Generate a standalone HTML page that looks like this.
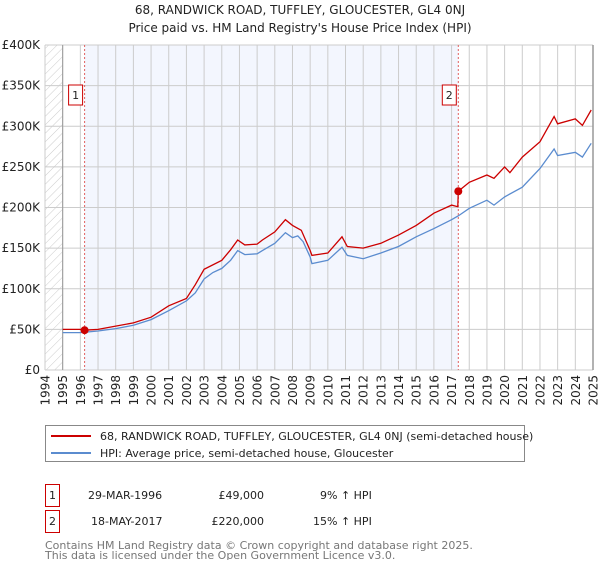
<!DOCTYPE html>
<html><head><meta charset="utf-8"><style>
body{margin:0;background:#fff;font-family:"Liberation Sans","DejaVu Sans",sans-serif;}
svg text{font-family:"DejaVu Sans","Liberation Sans",sans-serif;}
</style></head><body>
<svg width="600" height="560" xmlns="http://www.w3.org/2000/svg">
<defs><pattern id="hatch" width="6" height="6" patternUnits="userSpaceOnUse" patternTransform="rotate(45)"><line x1="0" y1="0" x2="0" y2="6" stroke="#ccc" stroke-width="1"/></pattern></defs>
<text x="300" y="14" text-anchor="middle" font-size="12" fill="#222">68, RANDWICK ROAD, TUFFLEY, GLOUCESTER, GL4 0NJ</text>
<text x="300" y="32" text-anchor="middle" font-size="12" fill="#222">Price paid vs. HM Land Registry's House Price Index (HPI)</text>
<g id="plot"></g>
<g>
<rect x="45.5" y="425.5" width="479" height="36" fill="#fff" stroke="#888"/>
<line x1="51" y1="436" x2="91" y2="436" stroke="#cc0000" stroke-width="2"/>
<text x="100" y="440" font-size="11" fill="#222">68, RANDWICK ROAD, TUFFLEY, GLOUCESTER, GL4 0NJ (semi-detached house)</text>
<line x1="51" y1="453" x2="91" y2="453" stroke="#5b8ccf" stroke-width="2"/>
<text x="100" y="457" font-size="11" fill="#222">HPI: Average price, semi-detached house, Gloucester</text>
</g>
<g font-size="11" fill="#222">
<rect x="45.5" y="484.5" width="14" height="22" fill="#fff" stroke="#cc0000"/>
<text x="52.5" y="499" text-anchor="middle">1</text>
<text x="88" y="499">29-MAR-1996</text>
<text x="264" y="499" text-anchor="end">£49,000</text>
<text x="320" y="499">9% ↑ HPI</text>
</g>
<g font-size="11" fill="#222">
<rect x="45.5" y="510.5" width="14" height="22" fill="#fff" stroke="#cc0000"/>
<text x="52.5" y="525" text-anchor="middle">2</text>
<text x="91" y="525">18-MAY-2017</text>
<text x="264" y="525" text-anchor="end">£220,000</text>
<text x="313" y="525">15% ↑ HPI</text>
</g>
<text x="45" y="549" font-size="11" fill="#777">Contains HM Land Registry data © Crown copyright and database right 2025.</text>
<text x="45" y="559" font-size="11" fill="#777">This data is licensed under the Open Government Licence v3.0.</text>
</svg>
<script>
const yearTicks=[1994,1995,1996,1997,1998,1999,2000,2001,2002,2003,2004,2005,2006,2007,2008,2009,2010,2011,2012,2013,2014,2015,2016,2017,2018,2019,2020,2021,2022,2023,2024,2025];
const valueTicks=[0,50000,100000,150000,200000,250000,300000,350000,400000];
const valueLabels=["£0","£50K","£100K","£150K","£200K","£250K","£300K","£350K","£400K"];
const hpiDates=[1995,1996,1997,1998,1999,2000,2001,2002,2002.5,2003,2003.5,2004,2004.5,2004.9,2005.3,2006,2006.3,2007,2007.6,2008,2008.3,2008.6,2009,2009.1,2010,2010.8,2011.1,2012,2013,2014,2015,2016,2017,2017.4,2018,2019,2019.4,2020,2021,2022,2022.8,2023,2024,2024.4,2024.9];
const hpiValues=[46000,46000,48000,51000,55000,62000,73000,85000,95000,112000,120000,125000,135000,147000,142000,143000,147000,156000,169000,163000,165000,158000,139000,131000,135000,151000,141000,137000,144000,152000,164000,174000,185000,190000,199000,209000,203000,213000,225000,248000,272000,264000,268000,262000,279000];
const priceDates=[1995,1996,1996.24,1997,1998,1999,2000,2001,2002,2002.5,2003,2004,2004.5,2004.9,2005.3,2006,2006.3,2007,2007.6,2008,2008.5,2009,2009.1,2010,2010.8,2011.1,2012,2013,2014,2015,2016,2017,2017.35,2017.38,2018,2019,2019.4,2020,2020.3,2021,2022,2022.8,2023,2024,2024.4,2024.9];
const priceValues=[50000,50000,49000,50000,54000,58000,65000,79000,88000,105000,124000,135000,148000,160000,154000,155000,160000,170000,185000,178000,172000,147000,141000,144000,164000,152000,150000,156000,166000,178000,193000,203000,201000,220000,231000,240000,236000,250000,243000,262000,281000,312000,303000,309000,301000,320000];
const saleDates=[1996.24,2017.38];
const saleValues=[49000,220000];
const saleLabels=["1","2"];

const NS="http://www.w3.org/2000/svg";
const X0=45,X1=593,Y0=370,Y1=45;
function xs(t){return X0+(t-1994)/(2025-1994)*(X1-X0);}
function ys(v){return Y0-v/400000*(Y0-Y1);}
const g=document.getElementById('plot');
function el(tag,attrs,parent){const e=document.createElementNS(NS,tag);for(const k in attrs)e.setAttribute(k,attrs[k]);(parent||g).appendChild(e);return e;}
let r=el('rect',{x:X0,y:Y1,width:X1-X0,height:Y0-Y1,fill:'#fff'});


r=el('rect',{x:X0,y:Y1,width:xs(1995)-X0,height:Y0-Y1,fill:'url(#hatch)'});


r=el('rect',{x:xs(saleDates[0]),y:Y1,width:xs(saleDates[1])-xs(saleDates[0]),height:Y0-Y1,fill:'#f3f6fe'});


yearTicks.forEach(t=>{
  const l=el('line',{x1:xs(t),x2:xs(t),y1:Y1,y2:Y0,stroke:'#ccc','stroke-width':1});
  
  
  const tx=el('text',{x:0,y:0,'font-size':12,fill:'#222','text-anchor':'end',transform:`translate(${xs(t)+4.5},375) rotate(-90)`});
  tx.textContent=t;
  
  
});
valueTicks.forEach((v,i)=>{
  const l=el('line',{x1:X0,x2:X1,y1:ys(v),y2:ys(v),stroke:'#ccc','stroke-width':1});
  
  
  const tx=el('text',{x:40,y:ys(v)+4,'font-size':12,fill:'#222','text-anchor':'end'});
  tx.textContent=valueLabels[i];
  
  
});
let ax=el('line',{x1:xs(1995),x2:xs(1995),y1:Y1,y2:Y0,stroke:'#999','stroke-width':1});


ax=el('line',{x1:X1,x2:X1,y1:Y1,y2:Y0,stroke:'#999','stroke-width':1.5});


saleDates.forEach((d,i)=>{
  const l=el('line',{x1:xs(d),x2:xs(d),y1:Y1,y2:Y0,stroke:'#e06060','stroke-width':1,'stroke-dasharray':'2,2'});
  
  
});
function pts(ds,vs){return ds.map((d,i)=>xs(d).toFixed(1)+','+ys(vs[i]).toFixed(1)).join(' ');}
let p=el('polyline',{points:pts(hpiDates,hpiValues),fill:'none',stroke:'#5b8ccf','stroke-width':1.3});


p=el('polyline',{points:pts(priceDates,priceValues),fill:'none',stroke:'#cc0000','stroke-width':1.3});


saleDates.forEach((d,i)=>{
  const c=el('circle',{cx:xs(d),cy:ys(saleValues[i]),r:4,fill:'#cc0000'});
  
  
  const b=el('rect',{x:xs(d)-16,y:85,width:14,height:20,fill:'#fff',stroke:'#cc0000'});
  
  
  const t=el('text',{x:xs(d)-9,y:99,'font-size':11,fill:'#222','text-anchor':'middle'});
  t.textContent=saleLabels[i];
  
  
});
</script>
</body></html>
